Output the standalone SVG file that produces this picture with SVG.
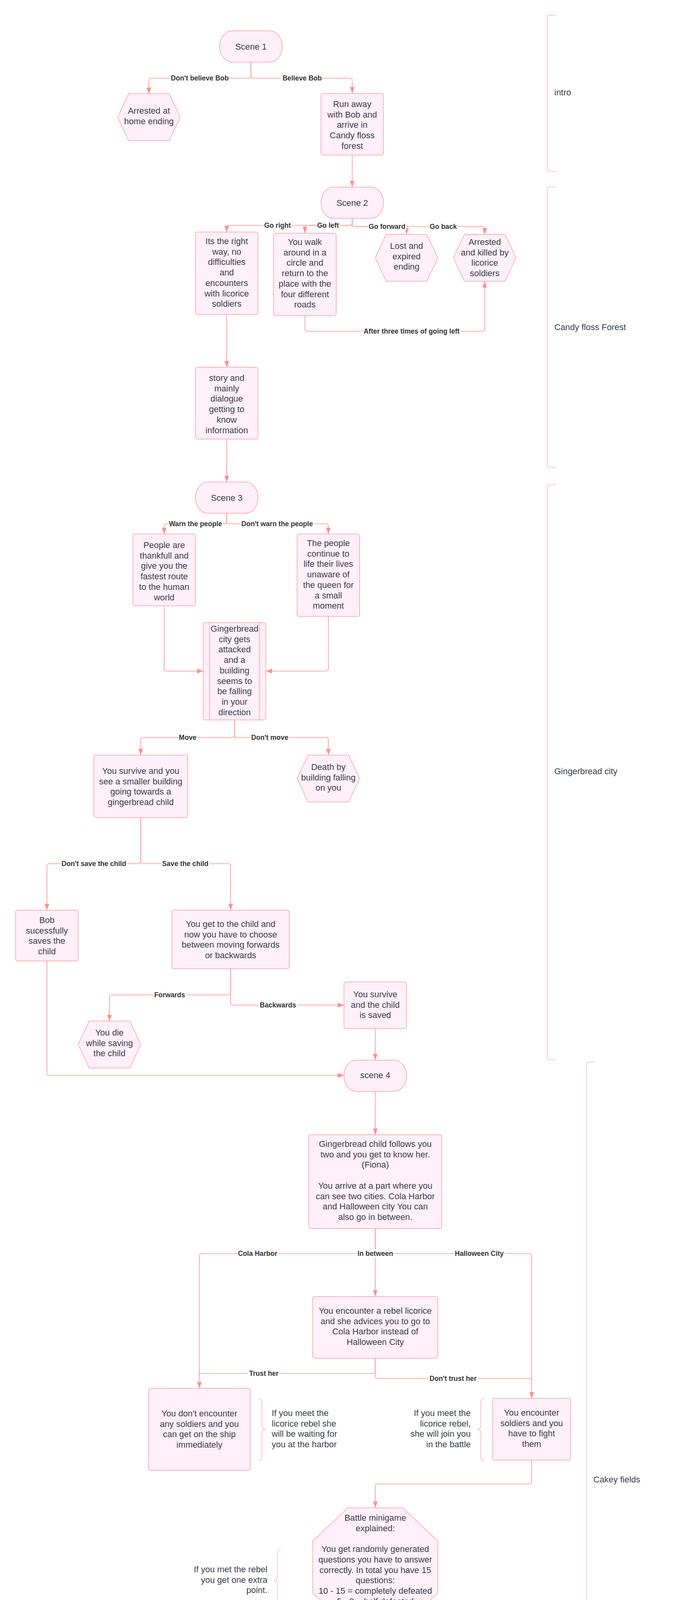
<svg xmlns="http://www.w3.org/2000/svg" width="1760" height="6380" viewBox="0 0 1760 6380">
<defs>
<style>
.n{fill:#fff0fa;stroke:#ff9a9a;stroke-width:1.5;stroke-linejoin:round}
.t{font-family:"Liberation Sans",Arial,sans-serif;font-size:22px;fill:#3a3f4b;text-anchor:middle}
.tl{font-family:"Liberation Sans",Arial,sans-serif;font-size:22px;fill:#3a3f4b;text-anchor:start}
.tr{font-family:"Liberation Sans",Arial,sans-serif;font-size:22px;fill:#3a3f4b;text-anchor:end}
.fb{font-family:"Liberation Sans",Arial,sans-serif;font-size:26.5px;font-weight:bold;fill:#3a3f4b;text-anchor:middle}
.c{fill:none;stroke:#ff8f8f;stroke-width:1.6}
.a{marker-end:url(#ah)}
.lb{font-family:"Liberation Sans",Arial,sans-serif;font-size:17.6px;font-weight:bold;fill:#333333;text-anchor:middle}
.lbg{fill:#ffffff}
.lane{fill:none;stroke:#ffb0b0;stroke-width:1.5}
.br{fill:none;stroke:#ffb0b0;stroke-width:1.5}
</style>
<marker id="ah" markerUnits="userSpaceOnUse" markerWidth="16" markerHeight="12" refX="16" refY="6" orient="auto"><path d="M0,0 L16,6 L0,12 z" fill="#ff8f8f"/></marker>
</defs>
<rect width="1760" height="6380" fill="#ffffff"/>

<g id="lanes">
<path class="lane" d="M1422,39 H1406 Q1400,39 1400,45 V433 Q1400,439 1406,439 H1422"/>
<text class="tl" x="1418" y="244">intro</text>
<path class="lane" d="M1422,479 H1406 Q1400,479 1400,485 V1191 Q1400,1197 1406,1197 H1422"/>
<text class="tl" x="1418" y="845">Candy floss Forest</text>
<path class="lane" d="M1422,1240 H1406 Q1400,1240 1400,1246 V2707 Q1400,2713 1406,2713 H1422"/>
<text class="tl" x="1418" y="1982">Gingerbread city</text>
<path class="lane" d="M1522,2719 H1506 Q1500,2719 1500,2725 V4854 Q1500,4860 1506,4860 H1522"/>
<text class="tl" x="1518" y="3795">Cakey fields</text>
<path class="lane" d="M1522,4863 H1506 Q1500,4863 1500,4869 V6333 Q1500,6339 1506,6339 H1522"/>
<text class="tl" x="1518" y="5605">Ending</text>
</g>

<g id="connectors">
<path class="c a" d="M642,159 V194 Q642,200 636,200 H387 Q381,200 381,206 V240"/>
<path class="c a" d="M642,159 V194 Q642,200 648,200 H895 Q901,200 901,206 V239"/>
<path class="c a" d="M901,397 V479"/>
<path class="c a" d="M901,559 V571 Q901,577 895,577 H586 Q580,577 580,583 V594"/>
<path class="c a" d="M901,559 V571 Q901,577 895,577 H786 Q780,577 780,583 V597"/>
<path class="c a" d="M901,559 V574 Q901,580 907,580 H1034 Q1040,580 1040,586 V600"/>
<path class="c a" d="M901,559 V574 Q901,580 907,580 H1234 Q1240,580 1240,586 V600"/>
<path class="c a" d="M780,808 V842 Q780,848 786,848 H1234 Q1240,848 1240,842 V720"/>
<path class="c a" d="M580,805 V940"/>
<path class="c a" d="M580,1124 V1234"/>
<path class="c a" d="M580,1314 V1335 Q580,1341 574,1341 H426 Q420,1341 420,1347 V1367"/>
<path class="c a" d="M580,1314 V1335 Q580,1341 586,1341 H834 Q840,1341 840,1347 V1367"/>
<path class="c a" d="M420,1551 V1712 Q420,1718 426,1718 H520"/>
<path class="c a" d="M840,1578 V1712 Q840,1718 834,1718 H680"/>
<path class="c a" d="M600,1843 V1882 Q600,1888 594,1888 H366 Q360,1888 360,1894 V1933"/>
<path class="c a" d="M600,1843 V1882 Q600,1888 606,1888 H834 Q840,1888 840,1894 V1933"/>
<path class="c a" d="M360,2093 V2205 Q360,2211 354,2211 H126 Q120,2211 120,2217 V2330"/>
<path class="c a" d="M360,2093 V2205 Q360,2211 366,2211 H584 Q590,2211 590,2217 V2330"/>
<path class="c a" d="M590,2480 V2541 Q590,2547 584,2547 H286 Q280,2547 280,2553 V2614"/>
<path class="c a" d="M590,2480 V2567 Q590,2573 596,2573 H880"/>
<path class="c a" d="M960,2633 V2714"/>
<path class="c a" d="M120,2460 V2747 Q120,2753 126,2753 H880"/>
<path class="c a" d="M960,2794 V2905"/>
<path class="c a" d="M960,3145 V3203 Q960,3209 954,3209 H516 Q510,3209 510,3215 V3554"/>
<path class="c a" d="M960,3145 V3319"/>
<path class="c a" d="M960,3145 V3203 Q960,3209 966,3209 H1354 Q1360,3209 1360,3215 V3580"/>
<path class="c" d="M960,3477 V3510 Q960,3516 954,3516 H516 Q510,3516 510,3522"/>
<path class="c" d="M960,3477 V3523 Q960,3529 966,3529 H1354 Q1360,3529 1360,3535"/>
<path class="c a" d="M1360,3738 V3793 Q1360,3799 1354,3799 H966 Q960,3799 960,3805 V3860"/>
<path class="c a" d="M960,4163 V4256 Q960,4262 954,4262 H646 Q640,4262 640,4268 V4362"/>
<path class="c a" d="M960,4163 V4256 Q960,4262 966,4262 H1126 Q1132,4262 1132,4268 V4359"/>
<path class="c a" d="M960,4163 V4295 Q960,4301 954,4301 H876 Q870,4301 870,4307 V4440"/>
<path class="c a" d="M640,4492 V4814 Q640,4820 646,4820 H700"/>
<path class="c a" d="M870,4597 V4804 L862,4818"/>
<path class="c a" d="M780,4860 V4940"/>
<path class="c a" d="M780,5200 V5440"/>
<path class="c a" d="M780,5740 V5873 Q780,5879 774,5879 H539"/>
<path class="c a" d="M780,5740 V5873 Q780,5879 786,5879 H1061"/>
</g>

<g id="connector-labels">
<rect class="lbg" x="434" y="189" width="153" height="22"/><text class="lb" x="511" y="206">Don't believe Bob</text>
<rect class="lbg" x="720" y="189" width="106" height="22"/><text class="lb" x="773" y="206">Believe Bob</text>
<rect class="lbg" x="674" y="566" width="72" height="22"/><text class="lb" x="710" y="583">Go right</text>
<rect class="lbg" x="809" y="566" width="60" height="22"/><text class="lb" x="839" y="583">Go left</text>
<rect class="lbg" x="941" y="569" width="98" height="22"/><text class="lb" x="990" y="586">Go forward</text>
<rect class="lbg" x="1098" y="569" width="73" height="22"/><text class="lb" x="1134" y="586">Go back</text>
<rect class="lbg" x="928" y="837" width="251" height="22"/><text class="lb" x="1053" y="854">After three times of going left</text>
<rect class="lbg" x="430" y="1330" width="140" height="22"/><text class="lb" x="500" y="1347">Warn the people</text>
<rect class="lbg" x="616" y="1330" width="187" height="22"/><text class="lb" x="709" y="1347">Don't warn the people</text>
<rect class="lbg" x="456" y="1877" width="48" height="22"/><text class="lb" x="480" y="1894">Move</text>
<rect class="lbg" x="640" y="1877" width="100" height="22"/><text class="lb" x="690" y="1894">Don't move</text>
<rect class="lbg" x="155" y="2200" width="171" height="22"/><text class="lb" x="240" y="2217">Don't save the child</text>
<rect class="lbg" x="413" y="2200" width="123" height="22"/><text class="lb" x="474" y="2217">Save the child</text>
<rect class="lbg" x="393" y="2536" width="83" height="22"/><text class="lb" x="434" y="2553">Forwards</text>
<rect class="lbg" x="663" y="2562" width="97" height="22"/><text class="lb" x="711" y="2579">Backwards</text>
<rect class="lbg" x="607" y="3198" width="105" height="22"/><text class="lb" x="659" y="3215">Cola Harbor</text>
<rect class="lbg" x="912" y="3198" width="96" height="22"/><text class="lb" x="960" y="3215">In between</text>
<rect class="lbg" x="1161" y="3198" width="131" height="22"/><text class="lb" x="1226" y="3215">Halloween City</text>
<rect class="lbg" x="635" y="3505" width="80" height="22"/><text class="lb" x="675" y="3522">Trust her</text>
<rect class="lbg" x="1097" y="3518" width="125" height="22"/><text class="lb" x="1159" y="3535">Don't trust her</text>
<rect class="lbg" x="671" y="4251" width="60" height="22"/><text class="lb" x="701" y="4268">10 - 15</text>
<rect class="lbg" x="894" y="4290" width="40" height="22"/><text class="lb" x="914" y="4307">5 - 9</text>
<rect class="lbg" x="1022" y="4251" width="46" height="22"/><text class="lb" x="1045" y="4268">Lose</text>
</g>

<g id="scene1"><rect class="n" x="562" y="79" width="160" height="80" rx="32" ry="40"/><text class="t" x="642" y="127">Scene 1</text></g>
<g id="arrested-home"><polygon class="n" points="329,240 433,240 461,300 433,360 329,360 301,300"/><text class="t" x="381" y="291"><tspan x="381">Arrested at</tspan><tspan x="381" dy="26.7">home ending</tspan></text></g>
<g id="run-away"><rect class="n" x="821" y="239" width="160" height="158" rx="5"/><text class="t" x="901" y="274"><tspan x="901">Run away</tspan><tspan x="901" dy="26.7">with Bob and</tspan><tspan x="901" dy="26.7">arrive in</tspan><tspan x="901" dy="26.7">Candy floss</tspan><tspan x="901" dy="26.7">forest</tspan></text></g>
<g id="scene2"><rect class="n" x="821" y="479" width="160" height="80" rx="32" ry="40"/><text class="t" x="901" y="527">Scene 2</text></g>
<g id="right-way"><rect class="n" x="500" y="594" width="160" height="211" rx="5"/><text class="t" x="580" y="625"><tspan x="580">Its the right</tspan><tspan x="580" dy="26.7">way, no</tspan><tspan x="580" dy="26.7">difficulties</tspan><tspan x="580" dy="26.7">and</tspan><tspan x="580" dy="26.7">encounters</tspan><tspan x="580" dy="26.7">with licorice</tspan><tspan x="580" dy="26.7">soldiers</tspan></text></g>
<g id="walk-circle"><rect class="n" x="700" y="597" width="160" height="211" rx="5"/><text class="t" x="780" y="627"><tspan x="780">You walk</tspan><tspan x="780" dy="26.7">around in a</tspan><tspan x="780" dy="26.7">circle and</tspan><tspan x="780" dy="26.7">return to the</tspan><tspan x="780" dy="26.7">place with the</tspan><tspan x="780" dy="26.7">four different</tspan><tspan x="780" dy="26.7">roads</tspan></text></g>
<g id="lost-expired"><polygon class="n" points="988,600 1092,600 1120,660 1092,720 988,720 960,660"/><text class="t" x="1040" y="637"><tspan x="1040">Lost and</tspan><tspan x="1040" dy="26.7">expired</tspan><tspan x="1040" dy="26.7">ending</tspan></text></g>
<g id="arrested-killed"><polygon class="n" points="1188,600 1292,600 1320,660 1292,720 1188,720 1160,660"/><text class="t" x="1240" y="627"><tspan x="1240">Arrested</tspan><tspan x="1240" dy="26.7">and killed by</tspan><tspan x="1240" dy="26.7">licorice</tspan><tspan x="1240" dy="26.7">soldiers</tspan></text></g>
<g id="story"><rect class="n" x="500" y="940" width="160" height="184" rx="5"/><text class="t" x="580" y="975"><tspan x="580">story and</tspan><tspan x="580" dy="26.7">mainly</tspan><tspan x="580" dy="26.7">dialogue</tspan><tspan x="580" dy="26.7">getting to</tspan><tspan x="580" dy="26.7">know</tspan><tspan x="580" dy="26.7">information</tspan></text></g>
<g id="scene3"><rect class="n" x="500" y="1234" width="160" height="80" rx="32" ry="40"/><text class="t" x="580" y="1282">Scene 3</text></g>
<g id="people-thankfull"><rect class="n" x="340" y="1367" width="160" height="184" rx="5"/><text class="t" x="420" y="1403"><tspan x="420">People are</tspan><tspan x="420" dy="26.7">thankfull and</tspan><tspan x="420" dy="26.7">give you the</tspan><tspan x="420" dy="26.7">fastest route</tspan><tspan x="420" dy="26.7">to the human</tspan><tspan x="420" dy="26.7">world</tspan></text></g>
<g id="people-continue"><rect class="n" x="760" y="1367" width="160" height="211" rx="5"/><text class="t" x="840" y="1398"><tspan x="840">The people</tspan><tspan x="840" dy="26.7">continue to</tspan><tspan x="840" dy="26.7">life their lives</tspan><tspan x="840" dy="26.7">unaware of</tspan><tspan x="840" dy="26.7">the queen for</tspan><tspan x="840" dy="26.7">a small</tspan><tspan x="840" dy="26.7">moment</tspan></text></g>
<g id="city-attacked"><rect class="n" x="520" y="1594" width="160" height="249" rx="5"/><line class="n" x1="536" y1="1594" x2="536" y2="1843"/><line class="n" x1="664" y1="1594" x2="664" y2="1843"/><text class="t" x="600" y="1617"><tspan x="600">Gingerbread</tspan><tspan x="600" dy="26.7">city gets</tspan><tspan x="600" dy="26.7">attacked</tspan><tspan x="600" dy="26.7">and a</tspan><tspan x="600" dy="26.7">building</tspan><tspan x="600" dy="26.7">seems to</tspan><tspan x="600" dy="26.7">be falling</tspan><tspan x="600" dy="26.7">in your</tspan><tspan x="600" dy="26.7">direction</tspan></text></g>
<g id="you-survive"><rect class="n" x="240" y="1933" width="240" height="160" rx="5"/><text class="t" x="360" y="1981"><tspan x="360">You survive and you</tspan><tspan x="360" dy="26.7">see a smaller building</tspan><tspan x="360" dy="26.7">going towards a</tspan><tspan x="360" dy="26.7">gingerbread child</tspan></text></g>
<g id="death-building"><polygon class="n" points="788,1933 892,1933 920,1993 892,2053 788,2053 760,1993"/><text class="t" x="840" y="1971"><tspan x="840">Death by</tspan><tspan x="840" dy="26.7">building falling</tspan><tspan x="840" dy="26.7">on you</tspan></text></g>
<g id="bob-saves"><rect class="n" x="40" y="2330" width="160" height="130" rx="5"/><text class="t" x="120" y="2363"><tspan x="120">Bob</tspan><tspan x="120" dy="26.7">sucessfully</tspan><tspan x="120" dy="26.7">saves the</tspan><tspan x="120" dy="26.7">child</tspan></text></g>
<g id="get-to-child"><rect class="n" x="440" y="2330" width="300" height="150" rx="5"/><text class="t" x="590" y="2373"><tspan x="590">You get to the child and</tspan><tspan x="590" dy="26.7">now you have to choose</tspan><tspan x="590" dy="26.7">between moving forwards</tspan><tspan x="590" dy="26.7">or backwards</tspan></text></g>
<g id="survive-child"><rect class="n" x="880" y="2514" width="160" height="119" rx="5"/><text class="t" x="960" y="2553"><tspan x="960">You survive</tspan><tspan x="960" dy="26.7">and the child</tspan><tspan x="960" dy="26.7">is saved</tspan></text></g>
<g id="you-die"><polygon class="n" points="228,2614 332,2614 360,2674 332,2734 228,2734 200,2674"/><text class="t" x="280" y="2651"><tspan x="280">You die</tspan><tspan x="280" dy="26.7">while saving</tspan><tspan x="280" dy="26.7">the child</tspan></text></g>
<g id="scene4"><rect class="n" x="880" y="2714" width="160" height="80" rx="32" ry="40"/><text class="t" x="960" y="2760">scene 4</text></g>
<g id="fiona"><rect class="n" x="790" y="2905" width="340" height="240" rx="5"/><text class="t" x="960" y="2936"><tspan x="960">Gingerbread child follows you</tspan><tspan x="960" dy="26.7">two and you get to know her.</tspan><tspan x="960" dy="26.7">(Fiona)</tspan><tspan x="960" dy="53.4">You arrive at a part where you</tspan><tspan x="960" dy="26.7">can see two cities. Cola Harbor</tspan><tspan x="960" dy="26.7">and Halloween city You can</tspan><tspan x="960" dy="26.7">also go in between.</tspan></text></g>
<g id="rebel"><rect class="n" x="800" y="3319" width="320" height="158" rx="5"/><text class="t" x="960" y="3363"><tspan x="960">You encounter a rebel licorice</tspan><tspan x="960" dy="26.7">and she advices you to go to</tspan><tspan x="960" dy="26.7">Cola Harbor instead of</tspan><tspan x="960" dy="26.7">Halloween City</tspan></text></g>
<g id="no-soldiers"><rect class="n" x="380" y="3554" width="260" height="210" rx="5"/><text class="t" x="510" y="3626"><tspan x="510">You don't encounter</tspan><tspan x="510" dy="26.7">any soldiers and you</tspan><tspan x="510" dy="26.7">can get on the ship</tspan><tspan x="510" dy="26.7">immediately</tspan></text></g>
<g id="note-harbor"><path class="br" d="M661,3580 Q670,3580 670,3590 V3650 Q670,3659 680,3659 Q670,3659 670,3668 V3729 Q670,3739 661,3739"/><text class="tl" x="695" y="3625"><tspan x="695">If you meet the</tspan><tspan x="695" dy="26.7">licorice rebel she</tspan><tspan x="695" dy="26.7">will be waiting for</tspan><tspan x="695" dy="26.7">you at the harbor</tspan></text></g>
<g id="soldiers"><rect class="n" x="1260" y="3580" width="200" height="158" rx="5"/><text class="t" x="1360" y="3624"><tspan x="1360">You encounter</tspan><tspan x="1360" dy="26.7">soldiers and you</tspan><tspan x="1360" dy="26.7">have to fight</tspan><tspan x="1360" dy="26.7">them</tspan></text></g>
<g id="note-battle-join"><path class="br" d="M1239,3580 Q1230,3580 1230,3590 V3650 Q1230,3659 1220,3659 Q1230,3659 1230,3668 V3729 Q1230,3739 1239,3739"/><text class="tr" x="1204" y="3625"><tspan x="1204">If you meet the</tspan><tspan x="1204" dy="26.7">licorice rebel,</tspan><tspan x="1204" dy="26.7">she will join you</tspan><tspan x="1204" dy="26.7">in the battle</tspan></text></g>
<g id="battle"><polygon class="n" points="890,3860 1030,3860 1120,3945 1120,4078 1030,4163 890,4163 800,4078 800,3945"/><text class="t" x="960" y="3893"><tspan x="960">Battle minigame</tspan><tspan x="960" dy="26.7">explained:</tspan><tspan x="960" dy="53.4">You get randomly generated</tspan><tspan x="960" dy="26.7">questions you have to answer</tspan><tspan x="960" dy="26.7">correctly. In total you have 15</tspan><tspan x="960" dy="26.7">questions:</tspan><tspan x="960" dy="26.7">10 - 15 = completely defeated</tspan><tspan x="960" dy="26.7">5 - 9 = half defeated</tspan><tspan x="960" dy="26.7">0 - 4 = you lose</tspan></text></g>
<g id="note-extra-point"><path class="br" d="M719,3966 Q710,3966 710,3976 V4036 Q710,4046 701,4046 Q710,4046 710,4056 V4115 Q710,4125 719,4125"/><text class="tr" x="684" y="4025"><tspan x="684">If you met the rebel</tspan><tspan x="684" dy="26.7">you get one extra</tspan><tspan x="684" dy="26.7">point.</tspan></text></g>
<g id="defeat"><rect class="n" x="560" y="4362" width="160" height="130" rx="5"/><text class="t" x="640" y="4396"><tspan x="640">You defeat</tspan><tspan x="640" dy="26.7">them and you</tspan><tspan x="640" dy="26.7">can head to</tspan><tspan x="640" dy="26.7">cola harbor</tspan></text></g>
<g id="half-defeat"><rect class="n" x="790" y="4440" width="160" height="157" rx="5"/><text class="t" x="870" y="4474"><tspan x="870">You half</tspan><tspan x="870" dy="26.7">defeat them</tspan><tspan x="870" dy="26.7">and you have</tspan><tspan x="870" dy="26.7">enough time</tspan><tspan x="870" dy="26.7">to flee</tspan></text></g>
<g id="arrested-halloween"><polygon class="n" points="1068,4359 1196,4359 1237,4439 1196,4519 1068,4519 1027,4439"/><text class="t" x="1132" y="4416"><tspan x="1132">You get arrested</tspan><tspan x="1132" dy="26.7">and killed in</tspan><tspan x="1132" dy="26.7">halloween city</tspan></text></g>
<g id="scene5"><rect class="n" x="700" y="4780" width="160" height="80" rx="32" ry="40"/><text class="t" x="780" y="4825">Scene 5</text></g>
<g id="cola-harbor"><rect class="n" x="610" y="4940" width="340" height="260" rx="5"/><text class="t" x="780" y="4992"><tspan x="780">You arrive at Cola Harbor and</tspan><tspan x="780" dy="26.7">get on the ship. A story gets told</tspan><tspan x="780" dy="26.7">and eventually you arrive at the</tspan><tspan x="780" dy="26.7">island where the portal is. Not</tspan><tspan x="780" dy="26.7">long after the licorice queen and</tspan><tspan x="780" dy="26.7">her soldiers arrove and the last</tspan><tspan x="780" dy="26.7">battle begins</tspan></text></g>
<g id="finale"><polygon class="n" points="715,5440 845,5440 930,5525 930,5655 845,5740 715,5740 630,5655 630,5525"/><text class="fb" x="780" y="5593">Finale battle + Ending</text></g>
<g id="good-ending"><polygon class="n" points="283,5759 477,5759 539,5879 477,5999 283,5999 221,5879"/><text class="t" x="380" y="5856"><tspan x="380">You go to the human world</tspan><tspan x="380" dy="26.7">and get eaten</tspan><tspan x="380" dy="26.7">(Good ending)</tspan></text></g>
<g id="bad-ending"><polygon class="n" points="1123,5759 1317,5759 1379,5879 1317,5999 1123,5999 1061,5879"/><text class="t" x="1220" y="5870"><tspan x="1220">You lose to the queen and</tspan><tspan x="1220" dy="26.7">you get killed on the spot</tspan></text></g>
</svg>
